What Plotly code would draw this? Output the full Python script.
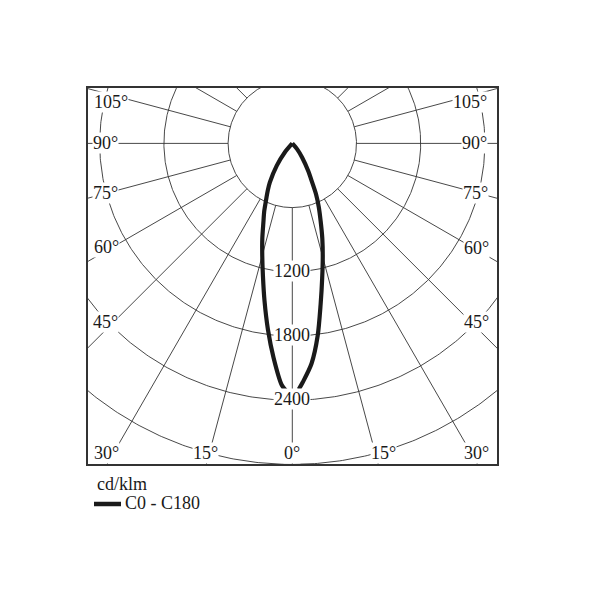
import numpy as np
import plotly.graph_objects as go

# ---------------- data ----------------
gamma_deg = [1.5, 2.5, 5, 7.5, 10, 12.5, 15, 17.5, 20, 22.5, 25, 27.5, 30, 35, 40, 45]
c0_cdklm = [2300, 2235, 2065, 1815, 1525, 1290, 1100, 933, 775, 648, 525, 385, 300, 160, 70, 0]
c180_cdklm = [2310, 2260, 2010, 1750, 1495, 1268, 1085, 932, 791, 685, 578, 497, 420, 253, 110, 0]

radial_ticks = [600, 1200, 1800, 2400, 3000]
radial_tick_labels = ["", "1200", "1800", "2400", ""]
spoke_angles = list(range(-180, 181, 15))
angle_label_values = [105, 90, 75, 60, 45, 30, 15, 0]
unit_label = "cd/klm"
series_name = "C0 - C180"

# ---------------- layout geometry (page pixels) ----------------
W = H = 600
OFF = 8                                  # page body margin of the html page
L, R, T, B = 88, 497, 88, 464            # plot area edges (page px)
CX, CY = 292.3, 143.4                    # pole position (page px)
K = 0.107                                # px per cd/klm

def px_to_data(px, py):
    return (px - CX) / K, (CY - py) / K

def px_to_paper(px, py):
    return (px - L) / (R - L), (B - py) / (B - T)

x0, y1 = px_to_data(L, T)
x1, y0 = px_to_data(R, B)

FONT = "Liberation Serif, Times New Roman, serif"
TXT = "#1a1a1a"
GRID = "#333333"

fig = go.Figure()

# grid circles
t = np.linspace(0, 2 * np.pi, 721)
for r in radial_ticks:
    fig.add_trace(go.Scatter(x=r * np.sin(t), y=-r * np.cos(t), mode="lines",
                             line=dict(color=GRID, width=0.9), hoverinfo="skip",
                             showlegend=False))

# spokes from inner circle outward
r_in, r_out = radial_ticks[0], 5000
for a in spoke_angles:
    ar = np.radians(a)
    fig.add_trace(go.Scatter(x=[r_in * np.sin(ar), r_out * np.sin(ar)],
                             y=[-r_in * np.cos(ar), -r_out * np.cos(ar)],
                             mode="lines", line=dict(color=GRID, width=0.9),
                             hoverinfo="skip", showlegend=False))

# intensity curve: C180 on the left, C0 on the right
g = np.radians(gamma_deg)
for vals, side in ((c180_cdklm, -1), (c0_cdklm, 1)):
    v = np.array(vals, dtype=float)
    fig.add_trace(go.Scatter(x=side * v * np.sin(g), y=-v * np.cos(g),
                             mode="lines", name=series_name,
                             line=dict(color=TXT, width=4.2, shape="spline", smoothing=0.8),
                             showlegend=False))

annotations = []
# radial labels on 0° spoke
for r, lab in zip(radial_ticks, radial_tick_labels):
    if lab:
        annotations.append(dict(x=0, y=-r, xref="x", yref="y", text=lab, showarrow=False,
                                font=dict(family=FONT, size=18, color=TXT),
                                bgcolor="white", borderpad=0, yshift=1))

# angle labels (page-pixel positions of label centres, left and right)
left_pos = [(110.5, 101.7), (105.0, 143.3), (105.5, 193.3), (106.5, 247.0),
            (105.7, 321.7), (106.7, 452.7), (205.3, 452.7), (292.3, 452.7)]
right_pos = [(470.0, 101.7), (474.7, 143.3), (475.0, 193.3), (476.0, 248.3),
             (476.3, 321.7), (476.3, 452.7), (383.0, 452.7), None]
for val, lp, rp in zip(angle_label_values, left_pos, right_pos):
    for p in (lp, rp):
        if p is None:
            continue
        dx, dy = px_to_data(*p)
        annotations.append(dict(x=dx, y=dy, xref="x", yref="y", text=f"{val}°",
                                showarrow=False, font=dict(family=FONT, size=18, color=TXT),
                                bgcolor="white", borderpad=0))

# legend (manual)
ux, uy = px_to_paper(94.5, 483.5)
annotations.append(dict(x=ux, y=uy, xref="paper", yref="paper", text=unit_label,
                        showarrow=False, xanchor="left", yanchor="middle",
                        font=dict(family=FONT, size=18, color=TXT)))
sx, sy = px_to_paper(123, 503)
annotations.append(dict(x=sx, y=sy, xref="paper", yref="paper", text=series_name,
                        showarrow=False, xanchor="left", yanchor="middle",
                        font=dict(family=FONT, size=18, color=TXT)))
lx0, ly = px_to_paper(94, 504)
lx1, _ = px_to_paper(121, 504)
shapes = [dict(type="line", xref="paper", yref="paper", x0=lx0, x1=lx1, y0=ly, y1=ly,
               line=dict(color=TXT, width=4.5))]

fig.update_layout(
    width=W, height=H,
    margin=dict(l=L - OFF, r=W - (R - OFF), t=T - OFF, b=H - (B - OFF), pad=0),
    paper_bgcolor="white", plot_bgcolor="white",
    xaxis=dict(range=[x0, x1], showgrid=False, zeroline=False, showticklabels=False,
               ticks="", showline=True, mirror=True, linewidth=2, linecolor="#333"),
    yaxis=dict(range=[y0, y1], showgrid=False, zeroline=False, showticklabels=False,
               ticks="", showline=True, mirror=True, linewidth=2, linecolor="#333",
               scaleanchor="x", scaleratio=1),
    annotations=annotations, shapes=shapes, showlegend=False,
)

fig.write_html("out.html")
